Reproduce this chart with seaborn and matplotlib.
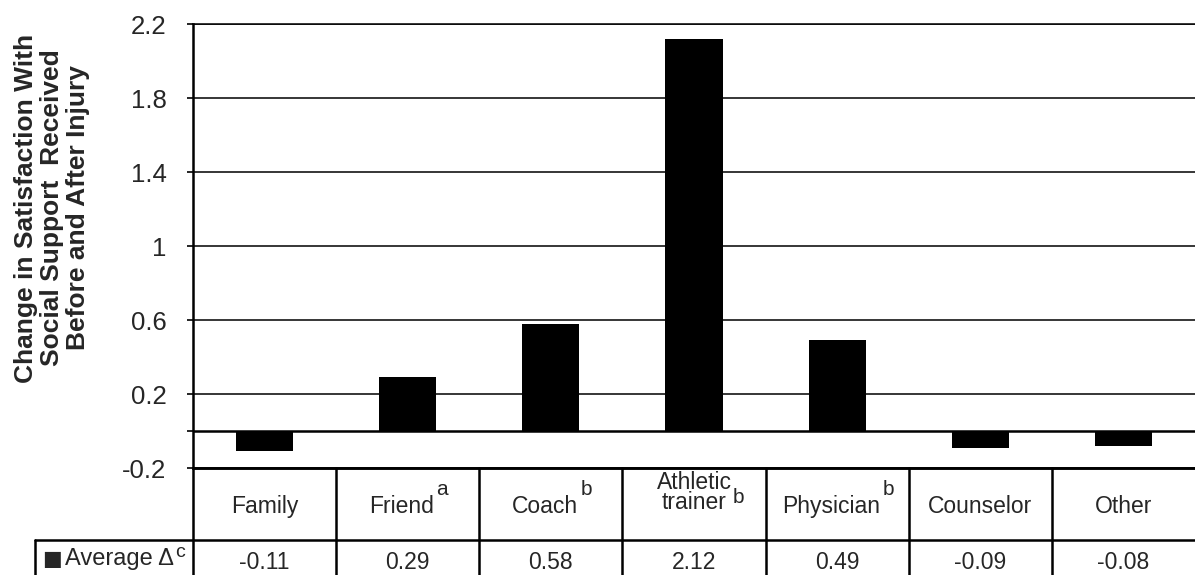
import matplotlib
matplotlib.use('Agg')
import matplotlib.pyplot as plt
import seaborn as sns
import pandas as pd

# data
categories = ['Family', 'Friend', 'Coach', 'Athletic trainer', 'Physician', 'Counselor', 'Other']
superscripts = ['', 'a', 'b', 'b', 'b', '', '']
average_change = [-0.11, 0.29, 0.58, 2.12, 0.49, -0.09, -0.08]
value_labels = ['-0.11', '0.29', '0.58', '2.12', '0.49', '-0.09', '-0.08']
y_ticks = [-0.2, 0.2, 0.6, 1.0, 1.4, 1.8, 2.2]
y_tick_labels = ['-0.2', '0.2', '0.6', '1', '1.4', '1.8', '2.2']
row_marker = '\u25a0'
row_label = 'Average \u0394'
row_label_sup = 'c'
y_label = 'Change in Satisfaction With\nSocial Support  Received\nBefore and After Injury'

sns.set_style('white')
plt.rcParams['font.family'] = ['Liberation Sans', 'DejaVu Sans']

W, H = 1195, 575
fig = plt.figure(figsize=(W / 100, H / 100), dpi=100)
ax = fig.add_axes([193 / W, 107 / H, 1002 / W, 444 / H])

df = pd.DataFrame({'source': categories, 'change': average_change})
sns.barplot(data=df, x='source', y='change', color='black', saturation=1,
            width=0.4, errorbar=None, edgecolor='black', linewidth=0, ax=ax, zorder=3)

ax.set_xlim(-0.5, 6.5)
ax.set_ylim(-0.2, 2.2)
ax.set_yticks(y_ticks)
ax.set_yticklabels(y_tick_labels)
ax.set_yticks([0], minor=True)
ax.set_xticks([])
ax.set_xlabel('')
ax.set_ylabel('')
ax.tick_params(axis='y', which='both', direction='out', length=4, width=1.2,
               color='black', pad=15, labelsize=18.5, left=True)

# horizontal gridlines + zero (category) axis
ax.yaxis.grid(True, color='black', lw=1.1)
ax.set_axisbelow(True)
ax.axhline(0, color='black', lw=1.8, zorder=2)

for side in ['left', 'bottom']:
    ax.spines[side].set_color('black')
    ax.spines[side].set_linewidth(1.8)
ax.spines['top'].set_color('black')
ax.spines['top'].set_linewidth(1.1)
ax.spines['right'].set_visible(False)

fig.text(52 / W, 1 - 208 / H, y_label, rotation=90, ha='center', va='center',
         fontsize=19, fontweight='bold', linespacing=1.1, multialignment='center')

# data table under the plot
tax = fig.add_axes([193 / W, 0, 1002 / W, 107 / H])
tax.set_xlim(-0.5, 6.5)
tax.set_ylim(0, 107)
tax.axis('off')

col_px = 1002 / 7
label_left = -0.5 - (193 - 35) / col_px
lw = 1.8
for k in range(7):
    tax.plot([k - 0.5, k - 0.5], [0, 107], color='black', lw=lw, clip_on=False)
tax.plot([-0.5, 6.5], [107, 107], color='black', lw=lw, clip_on=False)
tax.plot([label_left, 6.5], [35, 35], color='black', lw=lw, clip_on=False)
tax.plot([label_left, label_left], [0, 35], color='black', lw=lw, clip_on=False)

for i, (name, sup) in enumerate(zip(categories, superscripts)):
    parts = name.split(' ')
    shift = -0.04 if sup else 0
    if len(parts) == 1:
        word = tax.text(i + shift, 62, name, ha='center', va='baseline', fontsize=16.5)
        sup_y, sup_dx = 80, 1.5
    else:
        word = tax.text(i, 66, '\n'.join(parts), ha='center', va='baseline',
                        fontsize=16.5, linespacing=0.82, multialignment='center')
        sup_y, sup_dx = 72, 0.5
    if sup:
        tax.annotate(sup, xy=(1, sup_y), xycoords=(word, 'data'), xytext=(sup_dx, 0),
                     textcoords='offset points', ha='left', va='baseline', fontsize=15)

for i, v in enumerate(value_labels):
    tax.text(i, 6, v, ha='center', va='baseline', fontsize=16.5)

mk = tax.text(label_left + 7 / col_px, 10, row_marker, ha='left', va='baseline',
              fontsize=15, family='DejaVu Sans', clip_on=False)
lbl = tax.annotate(row_label, xy=(1, 10), xycoords=(mk, 'data'), xytext=(2, 0),
                   textcoords='offset points', ha='left', va='baseline', fontsize=17)
tax.annotate(row_label_sup, xy=(1, 18), xycoords=(lbl, 'data'), xytext=(1, 0),
             textcoords='offset points', ha='left', va='baseline', fontsize=14)

fig.savefig('out.png', dpi=100)
